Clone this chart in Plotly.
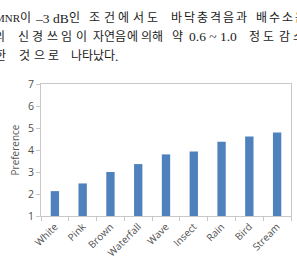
import plotly.graph_objects as go

categories = ["White", "Pink", "Brown", "Waterfall", "Wave", "Insect", "Rain", "Bird", "Stream"]
preference = [2.13, 2.48, 3.0, 3.36, 3.8, 3.93, 4.37, 4.61, 4.8]

y_title = "Preference"
y_ticks = [1, 2, 3, 4, 5, 6, 7]

# paragraph text above the chart: (text, left px, right px, is_latin) per line
line1 = [("MNR", -6, 18, True), ("이", 19, 31, False), ("–3", 34, 50, True), ("dB", 52, 70, True),
         ("인", 69, 81, False), ("조건에서도", 88, 160, False), ("바닥충격음과", 171, 249, False),
         ("배수소음", 256, 308, False)]
line2 = [("의", -7, 6, False), ("신경쓰임이", 16, 89, False), ("자연음에", 93, 138, False),
         ("의해", 141, 164, False), ("약", 172, 185, False), ("0.6 ~ 1.0", 189, 243, True),
         ("정도", 249, 276, False), ("감소", 279, 306, False)]
line3 = [("한", -6, 7, False), ("것으로", 17, 61, False), ("나타났다", 71, 115, False), (".", 114, 118, True)]

W, H = 297, 264
L, R, T, B = 41, 5, 84, 41
pw, ph = W - L - R, H - T - B

def px(x):
    return (x - L) / pw

def py(y):
    return (H - B - y) / ph

fig = go.Figure(go.Bar(
    x=categories, y=preference,
    marker=dict(color="#4F81BD", line=dict(width=0)),
))

annotations = []
txt_font = dict(family="Liberation Serif, Noto Sans CJK KR", size=12, color="#1a1a1a")
for words, yc in ((line1, 15), (line2, 34), (line3, 55)):
    for w, x0, x1, latin in words:
        if latin:
            annotations.append(dict(
                text=w, x=px(x0), y=py(yc), xref="paper", yref="paper",
                xanchor="left", yanchor="middle", showarrow=False, borderpad=0,
                font=dict(txt_font, size=11 if w == "MNR" else 13.5),
            ))
        else:
            n = len(w)
            pitch = (x1 - x0) / n
            for i, ch in enumerate(w):
                annotations.append(dict(
                    text=ch, x=px(x0 + (i + 0.5) * pitch), y=py(yc), xref="paper", yref="paper",
                    xanchor="center", yanchor="middle", showarrow=False, borderpad=0,
                    font=txt_font,
                ))

fig.update_layout(
    width=W, height=H,
    margin=dict(l=L, r=R, t=T, b=B, pad=0),
    paper_bgcolor="white", plot_bgcolor="white",
    bargap=0.7,
    showlegend=False,
    annotations=annotations,
    font=dict(family="Open Sans, Liberation Sans", color="#595959"),
)

fig.update_xaxes(
    type="category", range=[-0.5, len(categories) - 0.5],
    showline=True, linecolor="#C8C8C8", linewidth=1, mirror=True,
    ticks="outside", tickson="boundaries", ticklen=4, tickcolor="#C8C8C8",
    tickangle=-45, tickfont=dict(size=10, color="#505050"),
    showgrid=False, zeroline=False,
)
fig.update_yaxes(
    range=[1, 7], tickvals=y_ticks,
    showline=True, linecolor="#C8C8C8", linewidth=1, mirror=True,
    ticks="outside", ticklen=4, tickcolor="#C8C8C8",
    tickfont=dict(size=10.5, color="#505050"),
    title=dict(text=y_title, font=dict(size=10, color="#595959"), standoff=6),
    showgrid=False, zeroline=False,
)

fig.write_html("out.html")
